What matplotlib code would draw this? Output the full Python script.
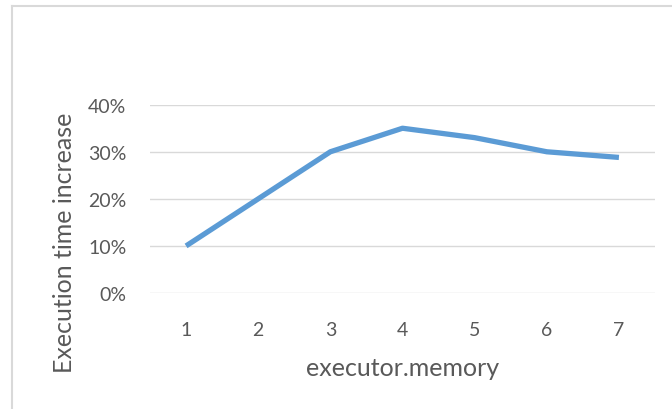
import matplotlib.pyplot as plt
from matplotlib.lines import Line2D
from matplotlib.ticker import PercentFormatter

plt.rcParams['font.family'] = ['Lato', 'DejaVu Sans']

memory = [1, 2, 3, 4, 5, 6, 7]
increase = [0.10, 0.20, 0.30, 0.35, 0.33, 0.30, 0.288]

fig = plt.figure(figsize=(6.72, 4.10), dpi=100)
ax = fig.add_axes([150 / 672, 1 - 294 / 410, 505 / 672, 188.3 / 410])

ax.plot(memory, increase, color='#5B9BD5', linewidth=3.8, solid_capstyle='butt',
        solid_joinstyle='round')

ax.set_xlim(0.5, 7.5)
ax.set_ylim(0, 0.4)
ax.set_xticks(memory)
ax.set_yticks([0, 0.1, 0.2, 0.3, 0.4])
ax.yaxis.set_major_formatter(PercentFormatter(1.0, decimals=0))
ax.grid(axis='y', color='#D9D9D9', linewidth=1.0)
ax.set_axisbelow(True)
for s in ax.spines.values():
    s.set_visible(False)
ax.tick_params(length=0, labelsize=14, labelcolor='#595959')
ax.tick_params(axis='x', pad=20)
ax.tick_params(axis='y', pad=17)

ax.set_xlabel('executor.memory', fontsize=18, color='#595959', labelpad=13)
fig.text(65 / 672, 1 - 243 / 410, 'Execution time increase', rotation=90,
         fontsize=18, color='#595959', ha='center', va='center')

# chart border (top and left edges)
fig.add_artist(Line2D([11.5 / 672, 1], [1 - 7 / 410, 1 - 7 / 410],
                      color='#D9D9D9', linewidth=1.5))
fig.add_artist(Line2D([11.5 / 672, 11.5 / 672], [0, 1 - 7 / 410],
                      color='#D9D9D9', linewidth=1.5))

fig.savefig('out.png', dpi=100)
